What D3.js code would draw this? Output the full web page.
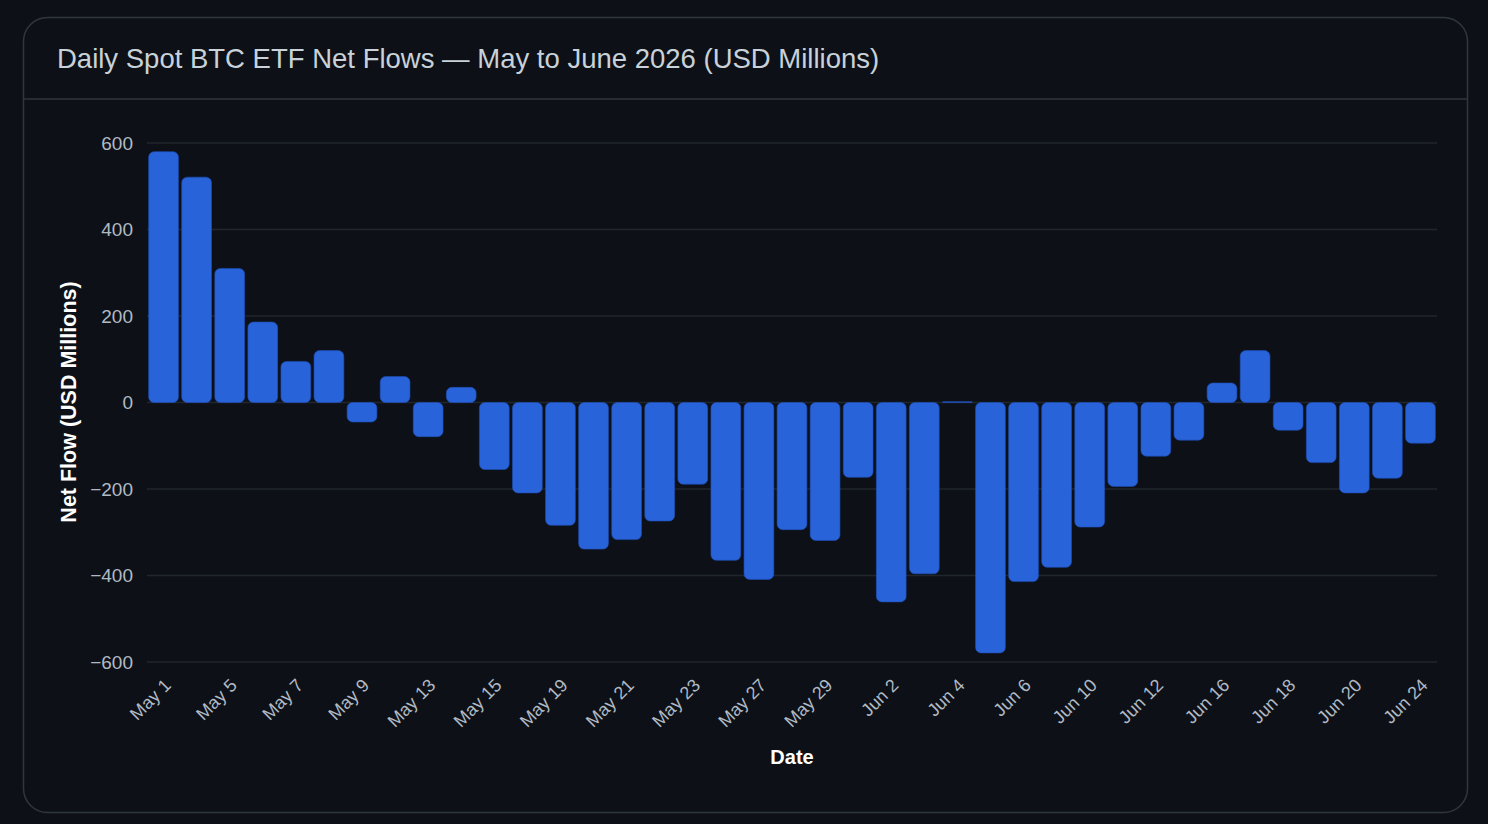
<!DOCTYPE html>
<html><head><meta charset="utf-8">
<script src="https://cdn.jsdelivr.net/npm/d3@7"></script>
<style>
html,body{margin:0;padding:0;background:#0d1117;}
svg{display:block;}
</style></head>
<body>
<svg id="chart" width="1488" height="824"></svg>
<script>
const dates = ["May 1","May 4","May 5","May 6","May 7","May 8","May 9","May 12","May 13","May 14",
"May 15","May 18","May 19","May 20","May 21","May 22","May 23","May 26","May 27","May 28",
"May 29","Jun 1","Jun 2","Jun 3","Jun 4","Jun 5","Jun 6","Jun 9","Jun 10","Jun 11",
"Jun 12","Jun 15","Jun 16","Jun 17","Jun 18","Jun 19","Jun 20","Jun 23","Jun 24"];
const netFlows = [580,521,310,186,95,120,-45,60,-79,35,
-155,-209,-284,-339,-317,-274,-189,-365,-409,-294,
-319,-173,-461,-396,2,-579,-414,-381,-288,-194,
-124,-87,45,120,-64,-139,-209,-175,-94];
const tickLabels = ["May 1","May 5","May 7","May 9","May 13","May 15","May 19","May 21","May 23","May 27",
"May 29","Jun 2","Jun 4","Jun 6","Jun 10","Jun 12","Jun 16","Jun 18","Jun 20","Jun 24"];
const yTicks = [-600,-400,-200,0,200,400,600];

const svg = d3.select("#chart");
const font = "'Liberation Sans', Arial, Helvetica, sans-serif";

// card
svg.append("rect").attr("x",23.5).attr("y",17.5).attr("width",1444).attr("height",795)
  .attr("rx",24).attr("fill","#0d1117").attr("stroke","#30363d").attr("stroke-width",1.5);
svg.append("line").attr("x1",24).attr("x2",1467).attr("y1",99).attr("y2",99)
  .attr("stroke","#30363d").attr("stroke-width",1.5);
svg.append("text").attr("x",57).attr("y",68).attr("fill","#c9d1d9")
  .style("font-family",font).style("font-size","27.5px")
  .text("Daily Spot BTC ETF Net Flows — May to June 2026 (USD Millions)");

const x = d3.scaleBand().domain(dates).range([147,1437]).paddingInner(0.1).paddingOuter(0.05);
const y = d3.scaleLinear().domain([-600,600]).range([662,143]);

// grid
svg.append("g").selectAll("line").data(yTicks).join("line")
  .attr("x1",147).attr("x2",1437).attr("y1",d=>y(d)).attr("y2",d=>y(d))
  .attr("stroke","#21262d").attr("stroke-width",1.5);

// y axis
const yAxis = svg.append("g").attr("transform","translate(147,0)")
  .call(d3.axisLeft(y).tickValues(yTicks).tickSize(0).tickPadding(14).tickFormat(d3.format("d")));
yAxis.select(".domain").remove();
yAxis.selectAll("text").attr("fill","#b1bac4").style("font-family",font).style("font-size","19px");

// bars
const r = 5.5;
function barPath(d,i){
  const x0 = x(dates[i]), w = x.bandwidth();
  const y0 = y(0), y1 = y(d);
  const h = Math.abs(y1-y0);
  const rr = Math.min(r, h/2, w/2);
  const top = Math.min(y0,y1);
  const p = d3.path();
  p.moveTo(x0+rr, top);
  p.lineTo(x0+w-rr, top);
  p.arcTo(x0+w, top, x0+w, top+rr, rr);
  p.lineTo(x0+w, top+h-rr);
  p.arcTo(x0+w, top+h, x0+w-rr, top+h, rr);
  p.lineTo(x0+rr, top+h);
  p.arcTo(x0, top+h, x0, top+h-rr, rr);
  p.lineTo(x0, top+rr);
  p.arcTo(x0, top, x0+rr, top, rr);
  p.closePath();
  return p.toString();
}
svg.append("g").selectAll("path").data(netFlows).join("path")
  .attr("d",(d,i)=>barPath(d,i))
  .attr("fill","#2963d9").attr("stroke","#1f4fb8").attr("stroke-width",0.6);

// x axis
const xAxis = svg.append("g").attr("transform","translate(0,662)")
  .call(d3.axisBottom(x).tickValues(tickLabels).tickSize(0).tickPadding(0));
xAxis.select(".domain").remove();
xAxis.selectAll("text")
  .attr("fill","#b1bac4").style("font-family",font).style("font-size","18px")
  .attr("text-anchor","end")
  .attr("dy","0.35em")
  .attr("transform","translate(4,20) rotate(-45)");

// axis titles
svg.append("text").attr("x",792).attr("y",764).attr("text-anchor","middle")
  .attr("fill","#ffffff").style("font-family",font).style("font-size","20px").style("font-weight","bold")
  .text("Date");
svg.append("text").attr("transform","translate(76,402) rotate(-90)").attr("text-anchor","middle")
  .attr("fill","#ffffff").style("font-family",font).style("font-size","21.5px").style("font-weight","bold")
  .text("Net Flow (USD Millions)");
</script>
</body></html>
